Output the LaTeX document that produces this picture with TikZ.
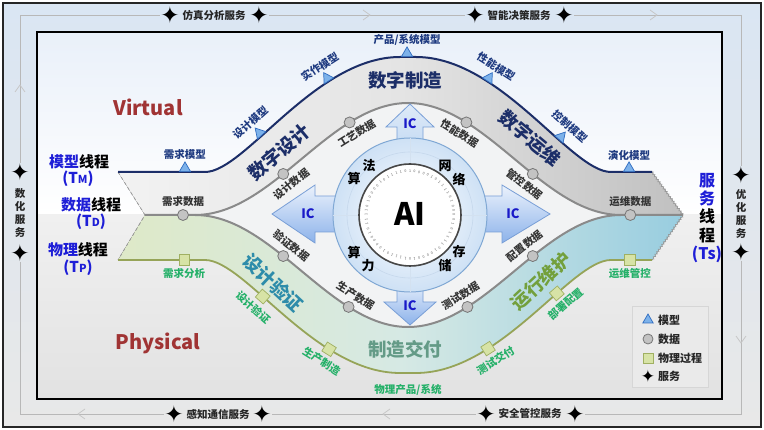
\documentclass[tikz,border=0pt]{standalone}
\usepackage{fontspec}
\setmainfont{Noto Sans CJK SC}
\newfontfamily\djv{DejaVu Sans}
\usetikzlibrary{shapes.geometric,decorations.pathmorphing}
\definecolor{navy}{RGB}{28,46,104}
\definecolor{mlabc}{RGB}{30,58,128}
\definecolor{tblue}{RGB}{30,30,215}
\definecolor{icblue}{RGB}{25,25,200}
\definecolor{vred}{RGB}{160,52,52}
\definecolor{pgreen}{RGB}{36,176,104}
\definecolor{dline}{RGB}{138,138,138}
\definecolor{oline}{RGB}{150,164,88}
\definecolor{triF}{RGB}{125,178,234}
\definecolor{triD}{RGB}{47,108,192}
\definecolor{dotF}{RGB}{195,195,195}
\definecolor{dotD}{RGB}{118,118,118}
\definecolor{sqF}{RGB}{215,227,166}
\definecolor{sqD}{RGB}{160,176,98}
\definecolor{teal1}{RGB}{45,140,170}
\definecolor{zzc}{RGB}{100,155,135}
\definecolor{yxwh}{RGB}{115,160,60}
\definecolor{ringB}{RGB}{128,168,212}
\definecolor{ringF}{RGB}{206,225,245}
\definecolor{icD}{RGB}{120,158,214}
\definecolor{icBot}{RGB}{140,178,234}
\definecolor{icTop}{RGB}{235,242,252}
\definecolor{outTop}{RGB}{218,230,243}
\definecolor{outBot}{RGB}{232,232,232}
\definecolor{inTop}{RGB}{233,240,249}
\definecolor{inMid}{RGB}{240,240,240}
\definecolor{inBot}{RGB}{226,226,226}
\definecolor{upL}{RGB}{242,242,242}
\definecolor{upM}{RGB}{228,228,228}
\definecolor{upR}{RGB}{192,192,192}
\definecolor{loL}{RGB}{222,233,200}
\definecolor{loM}{RGB}{214,233,228}
\definecolor{loR}{RGB}{152,205,224}
\definecolor{eyeF}{RGB}{242,243,244}
\definecolor{legF}{RGB}{234,234,234}
\definecolor{legD}{RGB}{214,214,214}
\definecolor{upTop}{RGB}{222,234,248}
\definecolor{upBot}{RGB}{196,218,243}
\tikzset{
  fs/.style={font=\fontsize{#1}{#1}\selectfont\bfseries},
  mlab/.style={fs=10.5, text=mlabc, inner sep=1pt},
  dlab/.style={fs=10.5, text=black!80, inner sep=1pt},
  plab/.style={fs=10.5, text=pgreen, inner sep=1pt},
  tri/.style={regular polygon, regular polygon sides=3, draw=triD, fill=triF, line width=0.7pt, minimum size=13pt, inner sep=0pt, anchor=south},
  dot/.style={circle, draw=dotD, fill=dotF, line width=0.8pt, minimum size=11pt, inner sep=0pt},
  sq/.style={rectangle, draw=sqD, fill=sqF, line width=0.7pt, minimum size=10.5pt, inner sep=0pt},
  svcst/.style={inner sep=0pt, text=black, font={\djv\fontsize{23}{23}\selectfont}},
  svc/.style={fs=10.5, text=black!85, inner sep=1pt},
  svcline/.style={draw=black!28, line width=0.8pt},
  chev/.style={draw=black!22, line width=0.8pt},
  big/.style={fs=18.5, inner sep=0pt},
  mline/.style={draw=navy, line width=2pt},
  dlinest/.style={draw=dline, line width=2pt},
  pline/.style={draw=oline, line width=1.8pt},
  icarrow/.style={draw=icD, line width=0.8pt, top color=icTop, bottom color=icBot},
  ictext/.style={fs=13, text=icblue, inner sep=0pt},
  cir/.style={fs=13, text=black, inner sep=0pt},
  binc/.style={font=\fontsize{3.6}{3.6}\selectfont, text=black!65, inner sep=0pt},
  thr/.style={fs=15, inner sep=0pt},
  leg/.style={fs=11, text=black!85, anchor=west, inner sep=0pt},
}
\begin{document}
\begin{tikzpicture}[x=1pt,y=-1pt]
\useasboundingbox (0,0) rectangle (764,430);
% backgrounds
\draw[line width=1.5pt, draw=black!85, top color=outTop, bottom color=outBot] (3,3) rectangle (761,427);
\fill[top color=inTop, bottom color=white] (37,32) rectangle (722,215);
\fill[top color=inMid, bottom color=inBot] (37,215) rectangle (722,399);
\draw[line width=2pt, black] (37,32) rectangle (722,399);

% service ring
\coordinate (cTL) at (20,15); \coordinate (cTR) at (741,15);
\coordinate (cBL) at (20,414); \coordinate (cBR) at (741,414);
\node[svcst] (sT1) at (170,15) {✦}; \node[svc] (tT1) at (214,15) {仿真分析服务}; \node[svcst] (sT2) at (259,15) {✦};
\node[svcst] (sT3) at (475,15) {✦}; \node[svc] (tT2) at (519,15) {智能决策服务}; \node[svcst] (sT4) at (564,15) {✦};
\node[svcst] (sB1) at (174,414) {✦}; \node[svc] (tB1) at (218,414) {感知通信服务}; \node[svcst] (sB2) at (262,414) {✦};
\node[svcst] (sB3) at (486,414) {✦}; \node[svc] (tB2) at (530,414) {安全管控服务}; \node[svcst] (sB4) at (575,414) {✦};
\node[svcst] (sL1) at (20,172) {✦}; \node[svc, align=center, font=\fontsize{10.5}{13}\selectfont\bfseries] (tL) at (20,213.5) {数\\化\\服\\务}; \node[svcst] (sL2) at (20,253) {✦};
\node[svcst] (sR1) at (741,175) {✦}; \node[svc, align=center, font=\fontsize{10.5}{13}\selectfont\bfseries] (tR) at (741,214) {优\\化\\服\\务}; \node[svcst] (sR2) at (741,252) {✦};
\draw[svcline] (sL1) -- (cTL) -- (sT1);
\draw[svcline] (sT2) -- (sT3);
\draw[svcline] (sT4) -- (cTR) -- (sR1);
\draw[svcline] (sR2) -- (cBR) -- (sB4);
\draw[svcline] (sB3) -- (sB2);
\draw[svcline] (sB1) -- (cBL) -- (sL2);
\draw[chev] (363,10) -- (370,15) -- (363,20);
\draw[chev] (650,10) -- (657,15) -- (650,20);
\draw[chev] (15,92) -- (20,85) -- (25,92);
\draw[chev] (736,336) -- (741,343) -- (746,336);
\draw[chev] (85,409) -- (78,414) -- (85,419);
\draw[chev] (390,409) -- (383,414) -- (390,419);

% region fills
\fill[left color=upL, right color=upR, middle color=upM]
 (118,172) -- (205,172) .. controls (245,172) and (315,57) .. (400,57) -- (416,57) .. controls (501,57) and (571,172) .. (611,172) -- (652,172) -- (683,215) -- (621,215) .. controls (543,215) and (486,103) .. (408,103) .. controls (330,103) and (273,215) .. (195,215) -- (145,215) -- cycle;
\fill[left color=loL, right color=loR, middle color=loM]
 (145,215) -- (195,215) .. controls (273,215) and (330,327) .. (408,327) .. controls (486,327) and (543,215) .. (621,215) -- (683,215) -- (652,260) -- (611,260) .. controls (571,260) and (501,373) .. (416,373) -- (400,373) .. controls (315,373) and (245,260) .. (205,260) -- (118,260) -- cycle;
\fill[fill=eyeF] (195,215) .. controls (273,215) and (330,103) .. (408,103) .. controls (486,103) and (543,215) .. (621,215) .. controls (543,215) and (486,327) .. (408,327) .. controls (330,327) and (273,215) .. cycle;
\draw[black!40, dashed, line width=0.8pt] (118,172) -- (145,215) -- (118,260);
\draw[black!40, line width=0.6pt, decorate, decoration={zigzag, segment length=3pt, amplitude=1pt}] (652,172) -- (683,215) -- (652,260);

% big stage labels
\node[big, text=navy, rotate=40] (bg1) at (279,152) {数字设计};
\node[big, text=navy] (bg2) at (405,80) {数字制造};
\node[big, text=navy, rotate=-40] (bg3) at (530,138) {数字运维};
\node[big, text=teal1, rotate=-43] (bg4) at (273,283) {设计验证};
\node[big, text=zzc] (bg5) at (405,349) {制造交付};
\node[big, text=yxwh, rotate=43] (bg6) at (541,281) {运行维护};

% model thread
\draw[mline] (118,172) -- (205,172) node[pos=0.77,tri](mk1){} node[pos=0.77,mlab,above=10pt](ml1){需求模型}
  .. controls (245,172) and (315,57) .. (400,57)
     node[pos=0.375,tri,sloped](mk2){} node[pos=0.375,mlab,sloped,above=10pt](ml2){设计模型}
     node[pos=0.705,tri,sloped](mk3){} node[pos=0.705,mlab,sloped,above=10pt](ml3){实作模型}
  -- (416,57) node[pos=0.44,tri](mk4){} node[pos=0.44,mlab,above=10pt](ml4){产品/系统模型}
  .. controls (501,57) and (571,172) .. (611,172)
     node[pos=0.295,tri,sloped](mk5){} node[pos=0.295,mlab,sloped,above=10pt](ml5){性能模型}
     node[pos=0.65,tri,sloped](mk6){} node[pos=0.65,mlab,sloped,above=10pt](ml6){控制模型}
  -- (652,172) node[pos=0.44,tri](mk7){} node[pos=0.44,mlab,above=10pt](ml7){演化模型};

% data thread
\draw[dlinest] (145,215) -- (195,215) node[pos=0.76,dot](dk1){} node[pos=0.76,dlab,above=6pt](dl1){需求数据}
  .. controls (273,215) and (330,103) .. (408,103)
     node[pos=0.41,dot](dk2){} node[pos=0.41,dlab,sloped,below=6pt](dl2){设计数据}
     node[pos=0.735,dot](dk3){} node[pos=0.735,dlab,sloped,below=6pt](dl3){工艺数据}
  .. controls (486,103) and (543,215) .. (621,215)
     node[pos=0.265,dot](dk4){} node[pos=0.265,dlab,sloped,below=6pt](dl4){性能数据}
     node[pos=0.59,dot](dk5){} node[pos=0.59,dlab,sloped,below=6pt](dl5){管控数据}
  -- (683,215) node[pos=0.15,dot](dk6){} node[pos=0.15,dlab,above=6pt](dl6){运维数据};
\draw[dlinest] (195,215) .. controls (273,215) and (330,327) .. (408,327)
     node[pos=0.41,dot](dk7){} node[pos=0.41,dlab,sloped,above=6pt](dl7){验证数据}
     node[pos=0.73,dot](dk8){} node[pos=0.73,dlab,sloped,above=6pt](dl8){生产数据}
  .. controls (486,327) and (543,215) .. (621,215)
     node[pos=0.27,dot](dk9){} node[pos=0.27,dlab,sloped,above=6pt](dl9){测试数据}
     node[pos=0.59,dot](dk10){} node[pos=0.59,dlab,sloped,above=6pt](dl10){配置数据};

% physical thread
\draw[pline] (118,260) -- (205,260) node[pos=0.76,sq](pk1){} node[pos=0.76,plab,below=7pt](pl1){需求分析}
  .. controls (245,260) and (315,373) .. (400,373)
     node[pos=0.38,sq,sloped](pk2){} node[pos=0.38,plab,sloped,below=7pt](pl2){设计验证}
     node[pos=0.705,sq,sloped](pk3){} node[pos=0.705,plab,sloped,below=7pt](pl3){生产制造}
  -- (416,373) node[pos=0.5,plab,below=9pt](pl4){物理产品/系统}
  .. controls (501,373) and (571,260) .. (611,260)
     node[pos=0.30,sq,sloped](pk5){} node[pos=0.30,plab,sloped,below=7pt](pl5){测试交付}
     node[pos=0.64,sq,sloped](pk6){} node[pos=0.64,plab,sloped,below=7pt](pl6){部署配置}
  -- (652,260) node[pos=0.46,sq](pk7){} node[pos=0.46,plab,below=7pt](pl7){运维管控};

% AI core
\draw[icarrow, top color=upTop, bottom color=upBot] (397,150) -- (397,127) -- (386,127) -- (410,104) -- (434,127) -- (423,127) -- (423,150) -- cycle;
\draw[icarrow] (397,280) -- (397,302) -- (384,302) -- (410,325) -- (436,302) -- (423,302) -- (423,280) -- cycle;
\draw[icarrow] (345,196) -- (315,196) -- (315,185) -- (272,214) -- (315,243) -- (315,232) -- (345,232) -- cycle;
\draw[icarrow] (475,196) -- (502,196) -- (502,185) -- (550,214) -- (502,243) -- (502,232) -- (475,232) -- cycle;
\draw[draw=ringB, line width=1pt, inner color=white, outer color=ringF] (410,215) circle (77);
\draw[draw=ringB!45, line width=0.6pt] (410,215) circle (63);
\draw[draw=ringB!35, line width=0.5pt] (410,138) -- (410,164) (410,266) -- (410,292) (333,215) -- (359,215) (461,215) -- (487,215);
\draw[draw=black!72, line width=1.6pt, fill=white] (410,215) circle (51);
\foreach \a [count=\i] in {0,6,...,354}{
  \pgfmathtruncatemacro\bit{mod(int(\i*\i/3+\i/2),2)}
  \node[binc, rotate=\a-90] at ({410+44*cos(\a)},{215-44*sin(\a)}) {\bit};
}
\node[fs=31, inner sep=0pt] (ai) at (410,214) {AI};
\node[ictext] (ic1) at (410,124) {IC};
\node[ictext] (ic2) at (308,214) {IC};
\node[ictext] (ic3) at (513,214) {IC};
\node[ictext] (ic4) at (410,306) {IC};
\node[cir] at (369,166) {法}; \node[cir] at (354,178) {算};
\node[cir] at (445,166) {网}; \node[cir] at (459,179) {络};
\node[cir] at (354,252) {算}; \node[cir] at (368,266) {力};
\node[cir] at (459,252) {存}; \node[cir] at (445,266) {储};

% side labels
\node[thr] (th1) at (79,162) {\textcolor{tblue}{模型}线程};
\node[thr, text=tblue] (th1b) at (78,179) {(T{\fontsize{11}{11}\selectfont M})};
\node[thr] (th2) at (91,205) {\textcolor{tblue}{数据}线程};
\node[thr, text=tblue] (th2b) at (91,222) {(T{\fontsize{11}{11}\selectfont D})};
\node[thr] (th3) at (78,250) {\textcolor{tblue}{物理}线程};
\node[thr, text=tblue] (th3b) at (78,268) {(T{\fontsize{11}{11}\selectfont P})};
\node[thr, align=center, font=\fontsize{16}{18.3}\selectfont\bfseries] (th4) at (707,218) {\textcolor{tblue}{服}\\\textcolor{tblue}{务}\\线\\程\\\textcolor{tblue}{(Ts)}};
\node[fs=20, text=vred] (virt) at (148,107) {Virtual};
\node[fs=20, text=vred] (phys) at (158,343) {Physical};

% legend
\draw[fill=legF, draw=legD, line width=0.6pt] (632,306) rectangle (708,387);
\node[tri, anchor=center, minimum size=12pt] (lg1) at (648,320) {}; \node[leg] at (658,320) {模型};
\node[dot, minimum size=10pt] (lg2) at (648,339) {}; \node[leg] at (658,339) {数据};
\node[sq, minimum size=10pt] (lg3) at (648,358) {}; \node[leg] at (658,358) {物理过程};
\node[svcst, font={\djv\fontsize{17}{17}\selectfont}] (lg4) at (648,376) {✦}; \node[leg] at (658,376) {服务};
\end{tikzpicture}
\end{document}
